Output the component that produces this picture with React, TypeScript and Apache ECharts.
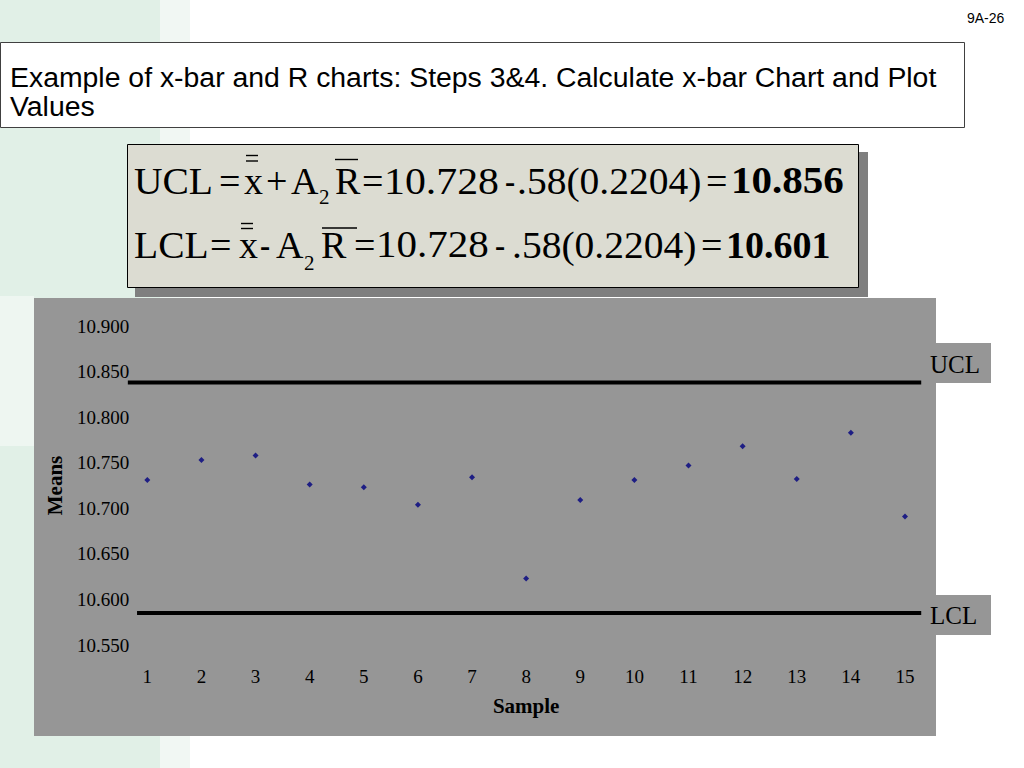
import React, { useEffect, useRef } from "react";
import * as echarts from "echarts";

// ---- data ----
const samples = [1, 2, 3, 4, 5, 6, 7, 8, 9, 10, 11, 12, 13, 14, 15];
const means = [10.731, 10.753, 10.758, 10.726, 10.723, 10.704, 10.734, 10.623, 10.709, 10.731, 10.747, 10.768, 10.732, 10.783, 10.691];
const yMin = 10.55;
const yMax = 10.9;
const yStep = 0.05;
// control lines as drawn in the picture (level, start sample, end sample)
const uclLevel = 10.838;
const lclLevel = 10.585;
const uclSpan = [0.64, 15.3];
const lclSpan = [0.81, 15.3];
const titleLines = ["Example of x-bar and R charts: Steps 3&4. Calculate x-bar Chart and Plot", "Values"];
const slideNumber = "9A-26";

const SERIF = "'Liberation Serif', 'Times New Roman', serif";
const SANS = "'Liberation Sans', Arial, sans-serif";

function txt(text: string, x: number, y: number, size: number, extra: any = {}) {
  return {
    type: "text",
    x,
    y,
    z: 20,
    scaleX: extra.scaleX ?? 1,
    style: {
      text,
      fill: "#000",
      fontSize: size,
      fontFamily: extra.family ?? SERIF,
      fontWeight: extra.weight ?? "normal",
      textAlign: extra.align ?? "left",
      align: extra.align ?? "left",
      textVerticalAlign: "middle",
      verticalAlign: "middle",
    },
  };
}

function bar(x1: number, x2: number, y: number) {
  return { type: "line", z: 20, shape: { x1, y1: y, x2, y2: y }, style: { stroke: "#000", lineWidth: 1.4 } };
}

export default function App() {
  const ref = useRef<HTMLDivElement>(null);
  useEffect(() => {
    if (!ref.current) return;
    const chart = echarts.init(ref.current, null, { renderer: "svg" });
    const F = 38;
    const y1 = 181;
    const y2 = 245;
    const graphic: any[] = [
      // slide background decoration
      { type: "rect", z: -10, shape: { x: 0, y: 0, width: 160, height: 768 }, style: { fill: "#e1f0e7" } },
      { type: "rect", z: -10, shape: { x: 160, y: 0, width: 30, height: 768 }, style: { fill: "#f1f7f3" } },
      { type: "rect", z: -9, shape: { x: 0, y: 296, width: 34, height: 150 }, style: { fill: "#eef6f1" } },
      // title box
      { type: "rect", z: -5, shape: { x: 0.5, y: 42.5, width: 964, height: 85 }, style: { fill: "#fff", stroke: "#404040", lineWidth: 1 } },
      txt(titleLines[0], 10, 77, 28.4, { family: SANS }),
      txt(titleLines[1], 10, 106, 28.4, { family: SANS }),
      txt(slideNumber, 967, 18, 14, { family: SANS }),
      // formula box
      { type: "rect", z: -5, shape: { x: 135, y: 152, width: 733, height: 145 }, style: { fill: "#7f7f7f" } },
      { type: "rect", z: -4, shape: { x: 127.5, y: 144.5, width: 731, height: 143 }, style: { fill: "#dcdcd2", stroke: "#000", lineWidth: 1 } },
      // line 1
      txt("UCL", 134, y1, F, { scaleX: 1.04 }),
      txt("=", 219, y1, F),
      txt("x", 244, y1, F),
      bar(246, 258, 155.5),
      bar(246, 258, 161),
      txt("+", 266, y1, F),
      txt("A", 291, y1, F),
      txt("2", 319, y1 + 16, 21),
      txt("R", 335, y1, F),
      bar(335, 358, 159.5),
      txt("=", 362, y1, F),
      txt("10.728", 384, y1, F, { scaleX: 1.1 }),
      txt("-", 505, y1, F, { scaleX: 0.8 }),
      txt(".58(0.2204)", 517, y1, F, { scaleX: 1.04 }),
      txt("=", 706, y1, F),
      txt("10.856", 731, y1, F, { weight: "bold", scaleX: 1.08 }),
      // line 2
      txt("LCL", 134, y2, F, { scaleX: 1.04 }),
      txt("=", 210, y2, F),
      txt("x", 239, y2, F),
      bar(241, 253, 223.5),
      bar(241, 253, 228.5),
      txt("-", 260, y2, F, { scaleX: 0.8 }),
      txt("A", 276, y2, F),
      txt("2", 304, y2 + 18, 21),
      txt("R", 321, y2, F),
      bar(322, 357, 228),
      txt("=", 354, y2, F),
      txt("10.728", 376, y2, F, { scaleX: 1.08 }),
      txt("-", 495, y2, F, { scaleX: 0.8 }),
      txt(".58(0.2204)", 512, y2, F, { scaleX: 1.04 }),
      txt("=", 701, y2, F),
      txt("10.601", 726, y2, F, { weight: "bold" }),
      // chart background
      { type: "rect", z: -5, shape: { x: 34, y: 298, width: 902, height: 438 }, style: { fill: "#969696" } },
      // control line label boxes
      { type: "rect", z: -5, shape: { x: 926, y: 343, width: 65, height: 40 }, style: { fill: "#969696" } },
      { type: "rect", z: -5, shape: { x: 926, y: 595, width: 65, height: 40 }, style: { fill: "#969696" } },
      txt("UCL", 930, 364, 25),
      txt("LCL", 930, 615, 25),
    ];

    chart.setOption({
      animation: false,
      backgroundColor: "#ffffff",
      grid: { left: 93.2, right: 64.9, top: 326, bottom: 123, containLabel: false },
      xAxis: {
        type: "value",
        min: 0,
        max: 16,
        interval: 1,
        name: "Sample",
        nameLocation: "middle",
        nameGap: 50,
        nameTextStyle: { fontFamily: SERIF, fontWeight: "bold", fontSize: 21, color: "#000" },
        axisLine: { show: false },
        axisTick: { show: false },
        splitLine: { show: false },
        axisLabel: {
          showMinLabel: false,
          showMaxLabel: false,
          margin: 22,
          fontFamily: SERIF,
          fontSize: 19,
          color: "#000",
          formatter: (v: number) => (v >= 1 && v <= 15 ? String(v) : ""),
        },
      },
      yAxis: {
        type: "value",
        min: yMin,
        max: yMax,
        interval: yStep,
        offset: -37,
        name: "Means",
        nameLocation: "middle",
        nameRotate: 90,
        nameGap: 65,
        nameTextStyle: { fontFamily: SERIF, fontWeight: "bold", fontSize: 21, color: "#000" },
        axisLine: { show: false },
        axisTick: { show: false },
        splitLine: { show: false },
        axisLabel: {
          margin: 1,
          fontFamily: SERIF,
          fontSize: 19,
          color: "#000",
          formatter: (v: number) => v.toFixed(3),
        },
      },
      series: [
        {
          name: "UCL",
          type: "line",
          data: [[uclSpan[0], uclLevel], [uclSpan[1], uclLevel]],
          showSymbol: false,
          lineStyle: { color: "#000", width: 4 },
          silent: true,
          z: 3,
        },
        {
          name: "LCL",
          type: "line",
          data: [[lclSpan[0], lclLevel], [lclSpan[1], lclLevel]],
          showSymbol: false,
          lineStyle: { color: "#000", width: 4 },
          silent: true,
          z: 3,
        },
        {
          name: "Means",
          type: "scatter",
          data: samples.map((s, i) => [s, means[i]]),
          symbol: "diamond",
          symbolSize: 6,
          itemStyle: { color: "#000080" },
          z: 4,
        },
      ],
      graphic: { elements: graphic },
    });
    return () => chart.dispose();
  }, []);
  return <div ref={ref} style={{ position: "fixed", left: 0, top: 0, width: 1024, height: 768 }} />;
}
